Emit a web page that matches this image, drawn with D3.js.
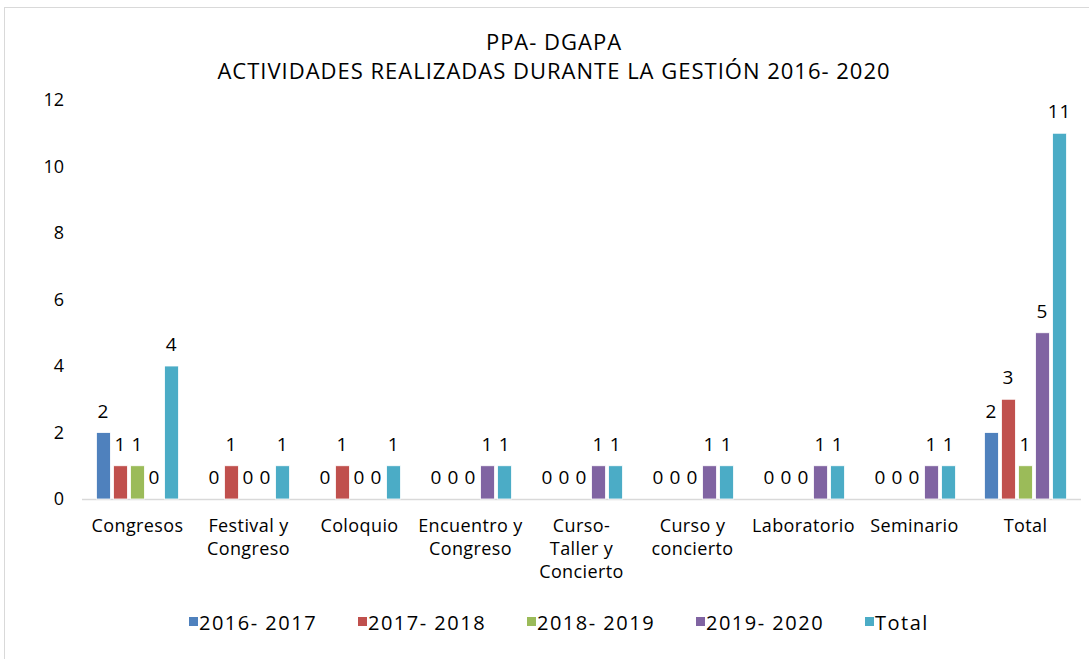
<!DOCTYPE html>
<html>
<head>
<meta charset="utf-8">
<script src="https://cdn.jsdelivr.net/npm/d3@7"></script>
<style>
  body { margin: 0; background: #fff; }
  text { font-family: "Open Sans", "Noto Sans", sans-serif; fill: #000; }
</style>
</head>
<body>
<svg id="chart" width="1089" height="659"></svg>
<script>
var categories = ["Congresos", "Festival y Congreso", "Coloquio", "Encuentro y Congreso",
  "Curso- Taller y Concierto", "Curso y concierto", "Laboratorio", "Seminario", "Total"];
var seriesNames = ["2016- 2017", "2017- 2018", "2018- 2019", "2019- 2020", "Total"];
var s2016 = [2, 0, 0, 0, 0, 0, 0, 0, 2];
var s2017 = [1, 1, 1, 0, 0, 0, 0, 0, 3];
var s2018 = [1, 0, 0, 0, 0, 0, 0, 0, 1];
var s2019 = [0, 0, 0, 1, 1, 1, 1, 1, 5];
var sTotal = [4, 1, 1, 1, 1, 1, 1, 1, 11];
var yTicks = [0, 2, 4, 6, 8, 10, 12];
var colors = ["#4f81bd", "#c0504d", "#9bbb59", "#8064a2", "#4bacc6"];

var seriesValues = [s2016, s2017, s2018, s2019, sTotal];

var svg = d3.select("#chart");

// chart frame (runs off the right and bottom edge)
svg.append("rect")
  .attr("x", 4.5).attr("y", 7.5)
  .attr("width", 1200).attr("height", 800)
  .attr("fill", "none").attr("stroke", "#d9d9d9");

var margin = {left: 82, right: 1081, top: 100, bottom: 499};

var y = d3.scaleLinear().domain([0, 12]).range([margin.bottom, margin.top]);

var x0 = d3.scaleBand().domain(categories)
  .range([margin.left, margin.right])
  .paddingInner(0.26).paddingOuter(0.13);

var x1 = d3.scaleBand().domain(seriesNames)
  .range([0, x0.bandwidth()])
  .paddingInner(0.18);

// title
var title = svg.append("text")
  .attr("x", 554).attr("y", 50)
  .attr("text-anchor", "middle")
  .style("font-size", "22px")
  .style("letter-spacing", "1px");
title.append("tspan").attr("x", 554).attr("dy", 0).text("PPA- DGAPA");
title.append("tspan").attr("x", 554).attr("dy", 29).text("ACTIVIDADES REALIZADAS DURANTE LA GESTIÓN 2016- 2020");

// y axis labels, no line
var yAxis = d3.axisLeft(y).tickValues(yTicks).tickSize(0).tickPadding(0);
var yg = svg.append("g").attr("transform", "translate(64,0)").call(yAxis);
yg.select(".domain").remove();
yg.selectAll("text").style("font-size", "18px").attr("font-family", null);

// x axis line
svg.append("line")
  .attr("x1", margin.left).attr("x2", margin.right)
  .attr("y1", y(0) + 0.5).attr("y2", y(0) + 0.5)
  .attr("stroke", "#d9d9d9").attr("stroke-width", 1.5);

// bars
var groups = svg.selectAll("g.cat")
  .data(categories)
  .enter().append("g")
  .attr("class", "cat")
  .attr("transform", function(d) { return "translate(" + x0(d) + ",0)"; });

function cells(d, i) {
  return seriesNames.map(function(s, k) { return {s: s, k: k, v: seriesValues[k][i]}; });
}

groups.selectAll("rect")
  .data(cells)
  .enter().append("rect")
  .attr("x", function(d) { return x1(d.s); })
  .attr("width", x1.bandwidth())
  .attr("y", function(d) { return y(d.v); })
  .attr("height", function(d) { return y(0) - y(d.v); })
  .attr("fill", function(d) { return colors[d.k]; })
  .attr("stroke", "#fff").attr("stroke-width", 0.8);

groups.selectAll("text.val")
  .data(cells)
  .enter().append("text")
  .attr("class", "val")
  .attr("x", function(d) { return x1(d.s) + x1.bandwidth() / 2; })
  .attr("y", function(d) { return y(d.v) - 15; })
  .attr("text-anchor", "middle")
  .style("font-size", "19px")
  .style("letter-spacing", "1px")
  .text(function(d) { return d.v; });

// category labels, wrapped like excel
function wrap(textSel, width) {
  textSel.each(function() {
    var t = d3.select(this),
        words = t.text().split(/\s+/),
        line = [], lines = [];
    t.text(null);
    var probe = t.append("tspan");
    words.forEach(function(w) {
      line.push(w);
      probe.text(line.join(" "));
      if (probe.node().getComputedTextLength() > width && line.length > 1) {
        line.pop();
        lines.push(line.join(" "));
        line = [w];
      }
    });
    lines.push(line.join(" "));
    probe.remove();
    lines.forEach(function(l, i) {
      t.append("tspan").attr("x", t.attr("x")).attr("dy", i ? 23 : 0).text(l);
    });
  });
}

svg.selectAll("text.cat")
  .data(categories)
  .enter().append("text")
  .attr("class", "cat")
  .attr("x", function(d) { return x0(d) + x0.bandwidth() / 2; })
  .attr("y", 532)
  .attr("text-anchor", "middle")
  .style("font-size", "18px")
  .style("letter-spacing", "0.4px")
  .text(function(d) { return d; })
  .call(wrap, 106);

// legend
var legend = svg.append("g").attr("transform", "translate(189,622)");
var lx = 0;
seriesNames.forEach(function(s, k) {
  var g = legend.append("g").attr("transform", "translate(" + lx + ",0)");
  g.append("rect").attr("x", 0).attr("y", -5).attr("width", 9).attr("height", 9)
    .attr("fill", colors[k]);
  g.append("text").attr("x", 10).attr("y", 8)
    .style("font-size", "20px").style("letter-spacing", "1.5px").text(s);
  lx += 169;
});
</script>
</body>
</html>
